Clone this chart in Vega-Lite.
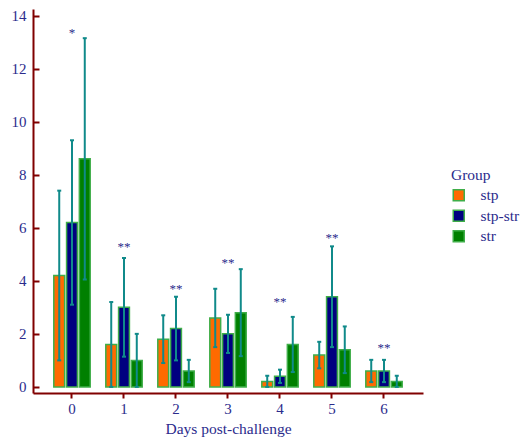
{
  "$schema": "https://vega.github.io/schema/vega-lite/v6.json",
  "width": 390,
  "height": 384,
  "autosize": {"type": "none"},
  "padding": {"left": 33, "top": 9, "right": 98, "bottom": 45},
  "background": "white",
  "config": {"view": {"stroke": null}, "font": "Liberation Serif"},
  "datasets": {
    "bars": [
      {"day": "0", "group": "stp", "value": 4.2, "lo": 1.0, "hi": 7.4},
      {"day": "0", "group": "stp-str", "value": 6.2, "lo": 3.1, "hi": 9.3},
      {"day": "0", "group": "str", "value": 8.6, "lo": 4.05, "hi": 13.15},
      {"day": "1", "group": "stp", "value": 1.6, "lo": 0.0, "hi": 3.2},
      {"day": "1", "group": "stp-str", "value": 3.0, "lo": 1.14, "hi": 4.86},
      {"day": "1", "group": "str", "value": 1.0, "lo": 0.0, "hi": 2.0},
      {"day": "2", "group": "stp", "value": 1.8, "lo": 0.9, "hi": 2.7},
      {"day": "2", "group": "stp-str", "value": 2.2, "lo": 1.0, "hi": 3.4},
      {"day": "2", "group": "str", "value": 0.6, "lo": 0.18, "hi": 1.02},
      {"day": "3", "group": "stp", "value": 2.6, "lo": 1.5, "hi": 3.7},
      {"day": "3", "group": "stp-str", "value": 2.0, "lo": 1.28, "hi": 2.72},
      {"day": "3", "group": "str", "value": 2.8, "lo": 1.16, "hi": 4.44},
      {"day": "4", "group": "stp", "value": 0.2, "lo": 0.0, "hi": 0.42},
      {"day": "4", "group": "stp-str", "value": 0.4, "lo": 0.15, "hi": 0.65},
      {"day": "4", "group": "str", "value": 1.6, "lo": 0.56, "hi": 2.64},
      {"day": "5", "group": "stp", "value": 1.2, "lo": 0.7, "hi": 1.7},
      {"day": "5", "group": "stp-str", "value": 3.4, "lo": 1.5, "hi": 5.3},
      {"day": "5", "group": "str", "value": 1.4, "lo": 0.52, "hi": 2.28},
      {"day": "6", "group": "stp", "value": 0.6, "lo": 0.18, "hi": 1.02},
      {"day": "6", "group": "stp-str", "value": 0.6, "lo": 0.18, "hi": 1.02},
      {"day": "6", "group": "str", "value": 0.2, "lo": 0.0, "hi": 0.42}
    ],
    "stars": [
      {"day": "0", "label": "*", "pos": 13.35},
      {"day": "1", "label": "**", "pos": 5.27},
      {"day": "2", "label": "**", "pos": 3.7},
      {"day": "3", "label": "**", "pos": 4.66},
      {"day": "4", "label": "**", "pos": 3.22},
      {"day": "5", "label": "**", "pos": 5.6},
      {"day": "6", "label": "**", "pos": 1.46}
    ]
  },
  "layer": [
    {
      "data": {"name": "bars"},
      "mark": {"type": "bar", "stroke": "#3fae49", "strokeWidth": 1.5},
      "encoding": {
        "x": {
          "field": "day", "type": "ordinal",
          "scale": {"paddingInner": 0.3, "paddingOuter": 0.4},
          "axis": {
            "title": "Days post-challenge", "labelAngle": 0,
            "domainColor": "#800000", "domainWidth": 2,
            "tickColor": "#800000", "tickWidth": 2, "tickSize": 5,
            "labelColor": "#2b2b8c", "labelFontSize": 15, "labelPadding": 3,
            "titleColor": "#2b2b8c", "titleFontSize": 15.5, "titleFontWeight": "normal", "titlePadding": 5
          }
        },
        "xOffset": {"field": "group", "type": "nominal", "scale": {"paddingInner": 0.15}},
        "y": {
          "field": "value", "type": "quantitative",
          "scale": {"domain": [-0.23, 14.25], "nice": false, "zero": false},
          "axis": {
            "title": null, "grid": false,
            "values": [0, 1, 2, 3, 4, 5, 6, 7, 8, 9, 10, 11, 12, 13, 14],
            "labelExpr": "datum.value % 2 == 0 ? datum.label : ''",
            "tickSize": {"condition": {"test": "datum.value % 2 == 0", "value": -6}, "value": -3},
            "domainColor": "#800000", "domainWidth": 2,
            "tickColor": "#800000", "tickWidth": 2,
            "labelColor": "#2b2b8c", "labelFontSize": 15, "labelPadding": 13
          }
        },
        "fill": {
          "field": "group", "type": "nominal",
          "scale": {"domain": ["stp", "stp-str", "str"], "range": ["#ff6a00", "#000080", "#008000"]},
          "legend": {
            "title": "Group", "orient": "none", "legendX": 418, "legendY": 159,
            "symbolType": "square", "symbolSize": 121,
            "symbolStrokeColor": "#3fae49", "symbolStrokeWidth": 1.5,
            "titleColor": "#2b2b8c", "titleFontSize": 15.5, "titleFontWeight": "normal",
            "labelColor": "#2b2b8c", "labelFontSize": 15.5, "labelOffset": 14,
            "rowPadding": 2.5, "titlePadding": 4
          }
        }
      }
    },
    {
      "data": {"name": "bars"},
      "mark": {"type": "rule", "color": "#108a8a", "strokeWidth": 2},
      "encoding": {
        "x": {"field": "day", "type": "ordinal"},
        "xOffset": {"field": "group", "type": "nominal"},
        "y": {"field": "lo", "type": "quantitative"},
        "y2": {"field": "hi"}
      }
    },
    {
      "data": {"name": "bars"},
      "mark": {"type": "tick", "color": "#108a8a", "orient": "horizontal", "size": 4, "thickness": 2, "opacity": 1},
      "encoding": {
        "x": {"field": "day", "type": "ordinal"},
        "xOffset": {"field": "group", "type": "nominal"},
        "y": {"field": "hi", "type": "quantitative"}
      }
    },
    {
      "data": {"name": "bars"},
      "mark": {"type": "tick", "color": "#108a8a", "orient": "horizontal", "size": 4, "thickness": 2, "opacity": 1},
      "encoding": {
        "x": {"field": "day", "type": "ordinal"},
        "xOffset": {"field": "group", "type": "nominal"},
        "y": {"field": "lo", "type": "quantitative"}
      }
    },
    {
      "data": {"name": "stars"},
      "mark": {"type": "text", "color": "#2b2b8c", "fontSize": 13, "baseline": "middle"},
      "encoding": {
        "x": {"field": "day", "type": "ordinal"},
        "y": {"field": "pos", "type": "quantitative"},
        "text": {"field": "label"}
      }
    }
  ]
}
